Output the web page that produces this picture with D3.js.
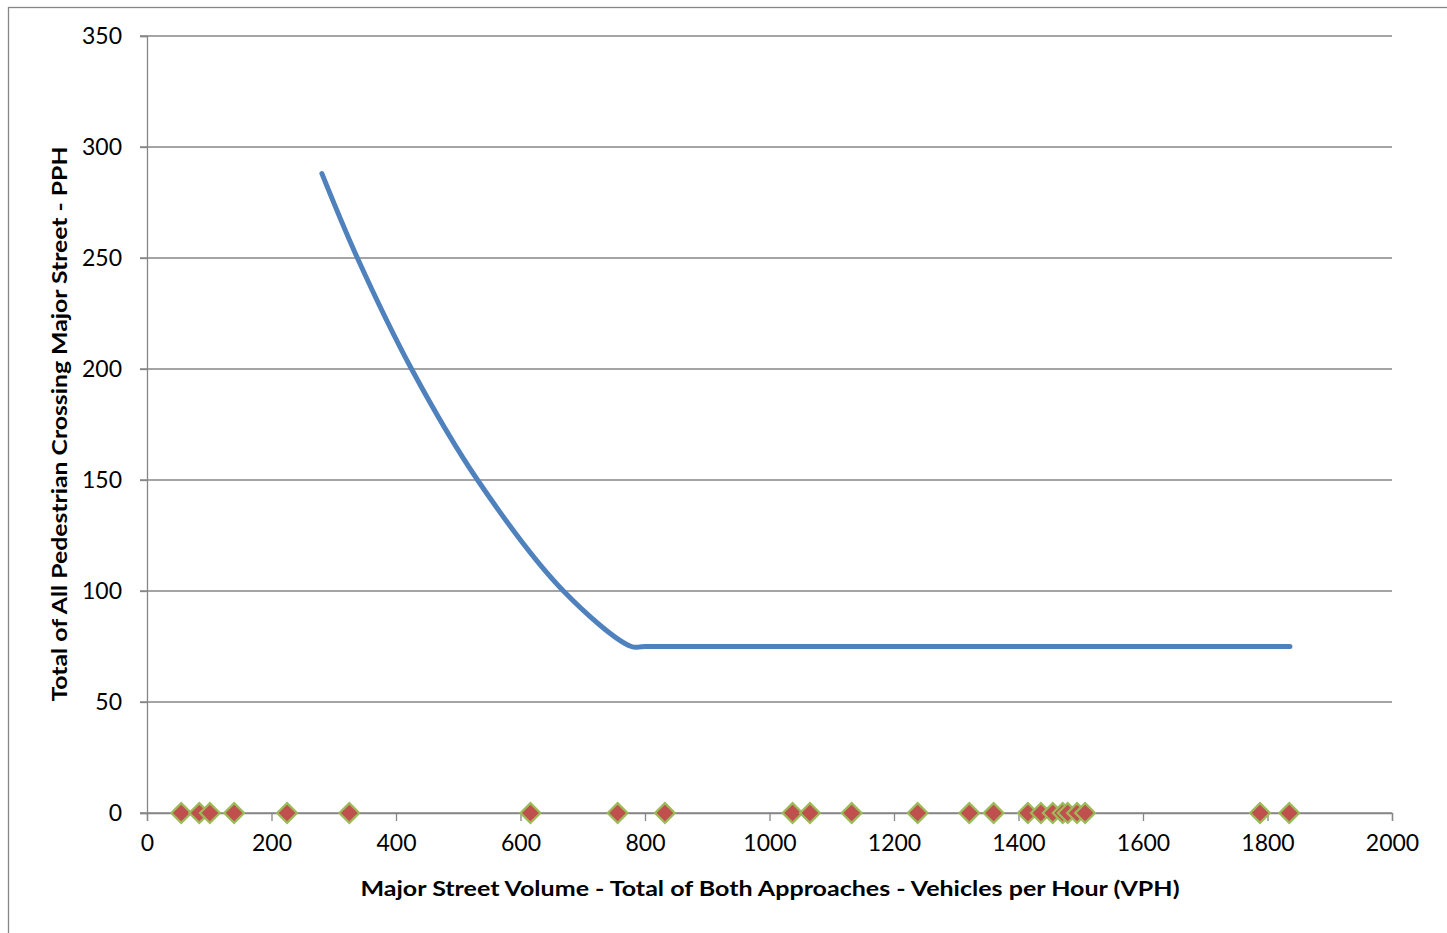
<!DOCTYPE html>
<html>
<head>
<meta charset="utf-8">
<script src="https://cdn.jsdelivr.net/npm/d3@7"></script>
<style>
  body { margin: 0; background: #fff; }
  text { font-family: Lato, "Open Sans", sans-serif; }
</style>
</head>
<body>
<div id="chart"></div>
<script>
// warrant curve (VPH, PPH)
var curveVph = [281, 338, 425, 531, 669, 778, 800, 1836];
var curvePph = [288, 250, 200, 150, 100, 75, 75, 75];

// observed hours, all at 0 PPH
var obsVph = [55, 84, 101, 140, 225, 325, 616, 756, 832, 1037, 1065, 1132, 1238,
              1321, 1360, 1415, 1436, 1455, 1471, 1479, 1494, 1507, 1788, 1835];
var obsPph = obsVph.map(function() { return 0; });

var xTicks = [0, 200, 400, 600, 800, 1000, 1200, 1400, 1600, 1800, 2000];
var yTicks = [0, 50, 100, 150, 200, 250, 300, 350];

var width = 1447, height = 933;
var plotLeft = 147, plotRight = 1392, plotTop = 36, plotBottom = 813;

var svg = d3.select("#chart").append("svg")
              .attr("width", width)
              .attr("height", height);

// chart area border (right/bottom edges fall outside the picture)
svg.append("rect")
     .attr("x", 8.5).attr("y", 7.5)
     .attr("width", 1600).attr("height", 1200)
     .attr("fill", "none")
     .attr("stroke", "#868686")
     .attr("stroke-width", 1.3);

var x = d3.scaleLinear().domain([0, 2000]).range([plotLeft, plotRight]);
var y = d3.scaleLinear().domain([0, 350]).range([plotBottom, plotTop]);

var grey = "#868686";

// horizontal gridlines
svg.append("g").selectAll("line").data(yTicks).enter().append("line")
     .attr("x1", plotLeft - 7).attr("x2", plotRight)
     .attr("y1", function(d) { return y(d); })
     .attr("y2", function(d) { return y(d); })
     .attr("stroke", grey).attr("stroke-width", 1.3);

// y axis
var yAxis = svg.append("g")
     .attr("transform", "translate(" + plotLeft + ",0)")
     .call(d3.axisLeft(y).tickValues(yTicks).tickSize(7).tickPadding(18));
yAxis.select(".domain").attr("stroke", grey).attr("stroke-width", 1.3);
yAxis.selectAll(".tick line").attr("stroke", grey).attr("stroke-width", 1.3);
yAxis.selectAll("text").attr("font-size", 23).attr("fill", "#000").attr("font-family", "Lato, sans-serif");

// x axis
var xAxis = svg.append("g")
     .attr("transform", "translate(0," + plotBottom + ")")
     .call(d3.axisBottom(x).tickValues(xTicks).tickSize(8).tickPadding(14).tickFormat(d3.format("d")));
xAxis.select(".domain").attr("stroke", grey).attr("stroke-width", 1.3);
xAxis.selectAll(".tick line").attr("stroke", grey).attr("stroke-width", 1.3);
xAxis.selectAll("text").attr("font-size", 23).attr("fill", "#000").attr("font-family", "Lato, sans-serif");

// warrant curve
var curvePts = curveVph.map(function(v, i) { return [v, curvePph[i]]; });
var line = d3.line()
     .x(function(d) { return x(d[0]); })
     .y(function(d) { return y(d[1]); })
     .curve(d3.curveCatmullRom.alpha(0.5));

svg.append("path")
     .datum(curvePts)
     .attr("d", line)
     .attr("fill", "none")
     .attr("stroke", "#4F81BD")
     .attr("stroke-width", 5)
     .attr("stroke-linecap", "round")
     .attr("stroke-linejoin", "round");

// observed points
var diamond = d3.symbol().type(d3.symbolDiamond2).size(250);
svg.append("g").selectAll("path").data(obsVph).enter().append("path")
     .attr("d", diamond)
     .attr("transform", function(d, i) { return "translate(" + x(d) + "," + y(obsPph[i]) + ")"; })
     .attr("fill", "#C0504D")
     .attr("stroke", "#9BBB59")
     .attr("stroke-width", 2.2);

// axis titles
svg.append("text")
     .attr("x", 770).attr("y", 896)
     .attr("text-anchor", "middle")
     .attr("font-size", 21.5)
     .attr("font-weight", "bold")
     .attr("textLength", 819)
     .attr("lengthAdjust", "spacingAndGlyphs")
     .text("Major Street Volume - Total of Both Approaches - Vehicles per Hour (VPH)");

svg.append("text")
     .attr("transform", "translate(67,424) rotate(-90)")
     .attr("text-anchor", "middle")
     .attr("font-size", 21.5)
     .attr("font-weight", "bold")
     .attr("textLength", 555)
     .attr("lengthAdjust", "spacingAndGlyphs")
     .text("Total of All Pedestrian Crossing Major Street - PPH");
</script>
</body>
</html>
